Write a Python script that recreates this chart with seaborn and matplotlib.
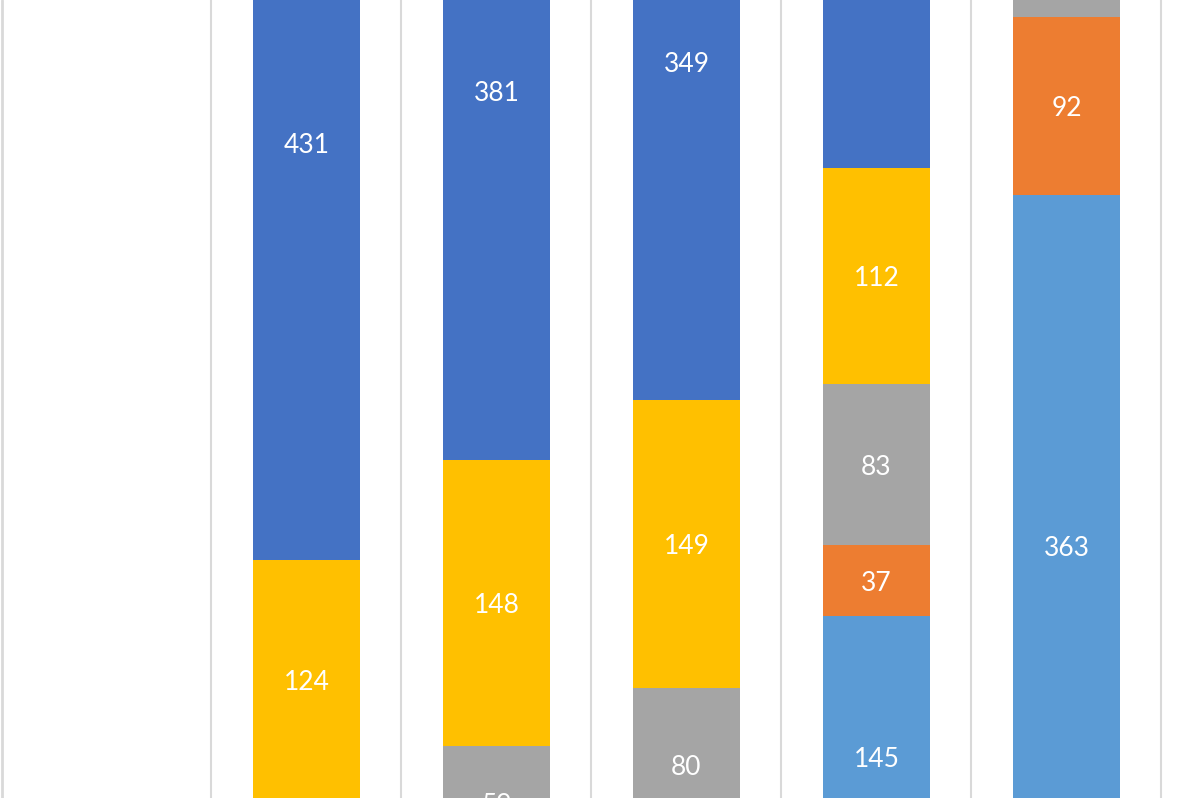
import matplotlib
matplotlib.use("Agg")
import matplotlib.pyplot as plt
import seaborn as sns
import pandas as pd
import numpy as np

categories = ["C1", "C2", "C3", "C4", "C5"]
# stacking order bottom -> top
series_names = ["S5", "S2", "S3", "S4", "S1"]
s5_lightblue = [25, 10, 14, 145, 363]
s2_orange = [25, 9, 14, 37, 92]
s3_gray = [0, 59, 80, 83, 40]
s4_yellow = [124, 148, 149, 112, 50]
s1_blue = [431, 381, 349, 229, 61]
colors = ["#5B9BD5", "#ED7D31", "#A5A5A5", "#FFC000", "#4472C4"]

sns.set_theme(style="white")
plt.rcParams["font.family"] = ["Lato", "DejaVu Sans"]

fig = plt.figure(figsize=(12.01, 7.98), dpi=100)
ax = fig.add_axes([0, 0, 1, 1])

vals = np.array([s5_lightblue, s2_orange, s3_gray, s4_yellow, s1_blue], dtype=float)
cum = np.cumsum(vals, axis=0)

# draw from top-most cumulative down so lower segments overlay
for k in range(len(series_names) - 1, -1, -1):
    df = pd.DataFrame({"cat": categories, "val": cum[k]})
    sns.barplot(data=df, x="cat", y="val", order=categories, color=colors[k],
                saturation=1, width=0.56, errorbar=None, linewidth=0, ax=ax, zorder=2)

ymin, ymax = 51.2, 463.6
# labels (all segments; those outside the view are clipped away)
for k in range(len(series_names)):
    for i, c in enumerate(categories):
        v = vals[k, i]
        if v <= 0:
            continue
        mid = cum[k, i] - v / 2
        ax.text(i, mid, f"{int(v)}", color="white", ha="center", va="center_baseline",
                fontsize=19, zorder=5, clip_on=True)

# vertical gridlines at category boundaries
for b in np.arange(-0.5, len(categories) + 0.5, 1.0):
    ax.axvline(b, color="#D9D9D9", linewidth=1.5, zorder=0)
ax.axvline(-1.603, color="#D9D9D9", linewidth=2.0, zorder=0)

ax.set_xlim(-1.613, 4.708)
ax.set_ylim(ymin, ymax)
ax.set_axis_off()
ax.set_xlabel("")
ax.set_ylabel("")

fig.savefig("out.png", dpi=100)
